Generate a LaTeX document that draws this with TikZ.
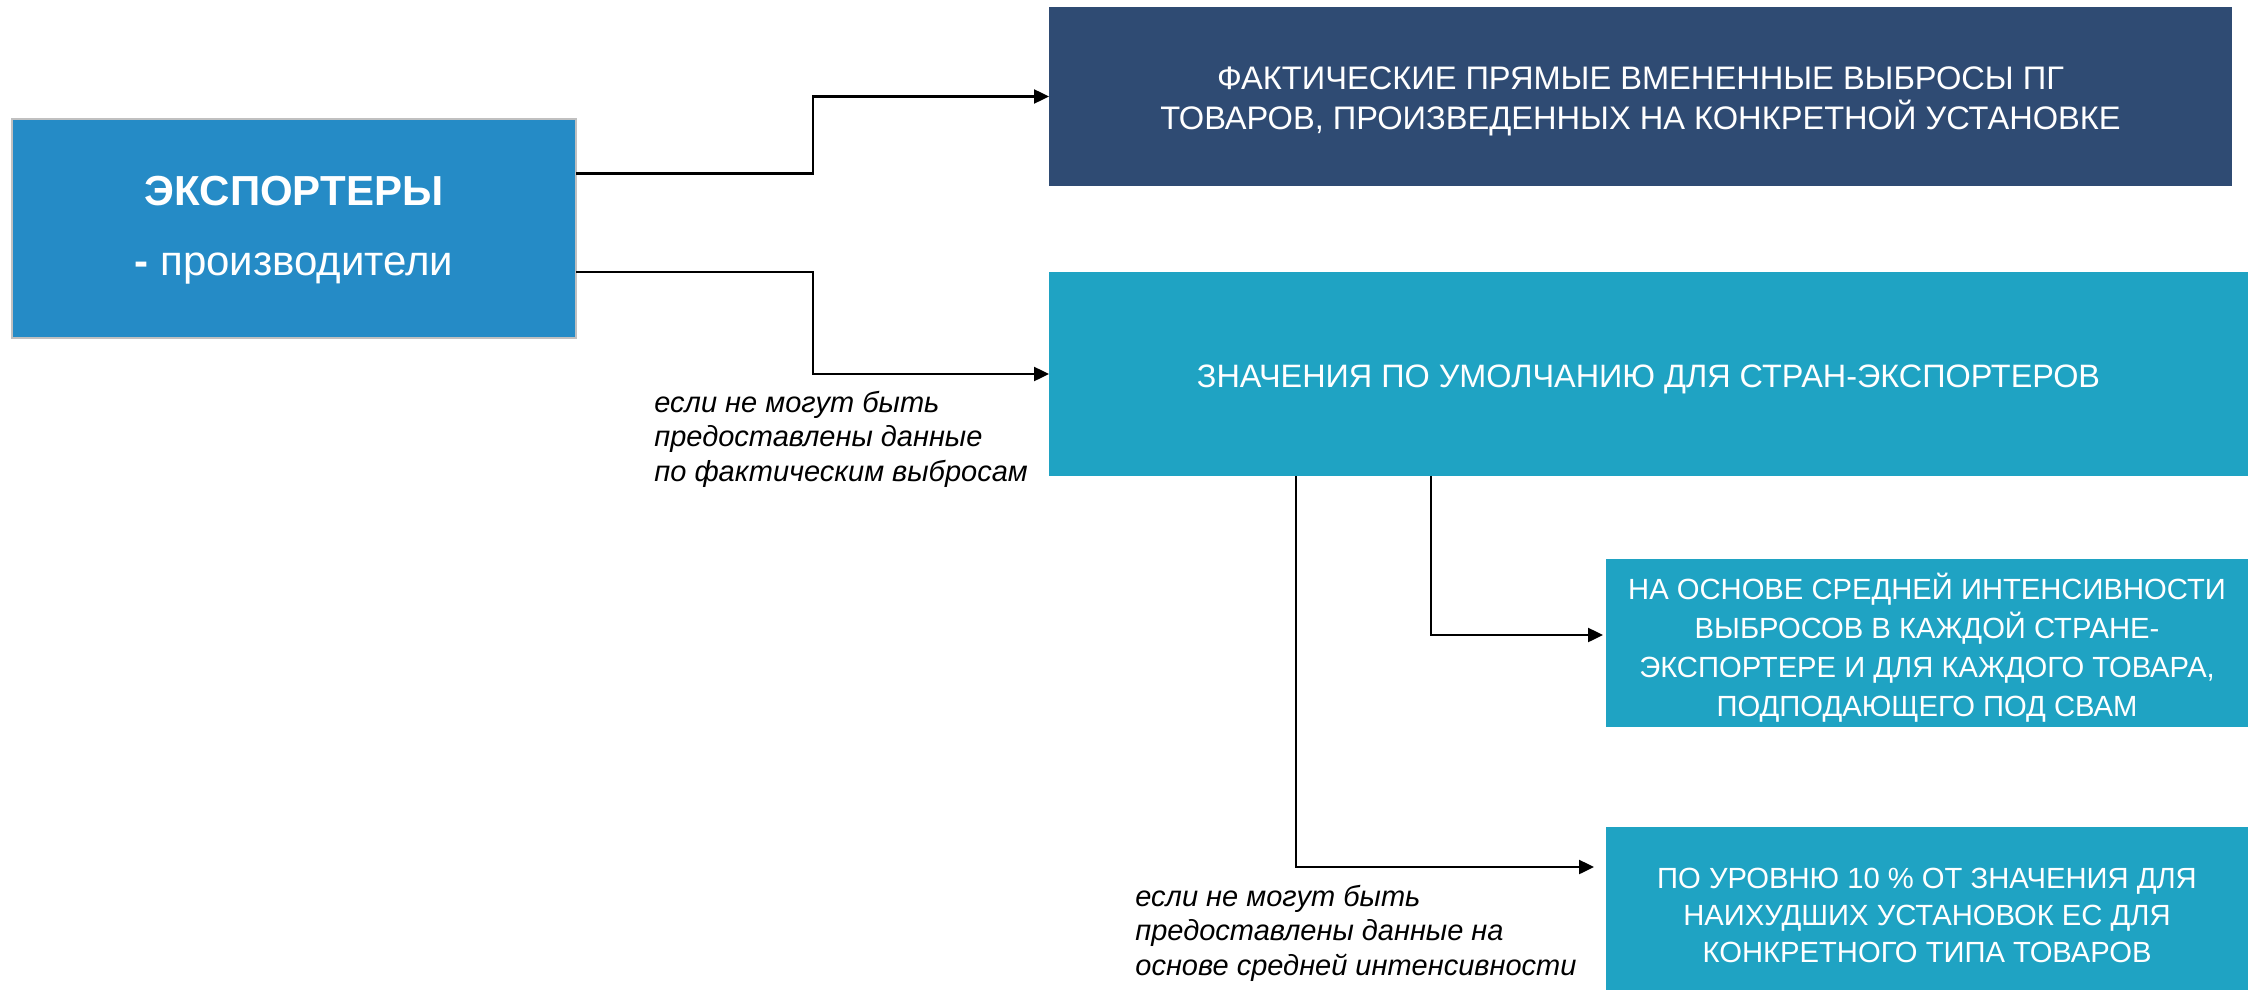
\documentclass[tikz,border=0pt]{standalone}
\usepackage{fontspec}
\setmainfont{Liberation Sans}
\usetikzlibrary{arrows.meta}
\definecolor{lblue}{HTML}{258BC6}
\definecolor{dblue}{HTML}{2F4B73}
\definecolor{tblue}{HTML}{1FA3C3}
\definecolor{bgray}{HTML}{C0C0C0}
\begin{document}
\begin{tikzpicture}[x=0.5pt,y=-0.5pt,
  boxbase/.style={inner sep=0pt, outer sep=0pt},
  boxtext/.style={inner sep=0pt, text=white, align=center, yshift=-2.6pt},
  leftbox/.style={boxbase, fill=lblue, draw=bgray, line width=1.2pt},
  darkbox/.style={boxbase, fill=dblue},
  tealbox/.style={boxbase, fill=tblue},
  arr/.style={draw=black, line width=1.2pt, -{Triangle[length=7.5pt,width=7pt]}},
  note/.style={inner sep=0pt, align=left, font=\fontsize{14.5}{17.2}\selectfont\itshape}
]
\useasboundingbox (0,0) rectangle (2248,990);
\node[leftbox, minimum width=282pt, minimum height=109.5pt,
  label={[boxtext, yshift=2pt, font=\fontsize{21}{25}\selectfont]center:{{\bfseries ЭКСПОРТЕРЫ}\\[10pt]{\bfseries -} производители}}] (L) at (294,228.5) {};
\node[darkbox, minimum width=591.5pt, minimum height=89.5pt,
  label={[boxtext, font=\fontsize{16.3}{20}\selectfont]center:{ФАКТИЧЕСКИЕ ПРЯМЫЕ ВМЕНЕННЫЕ ВЫБРОСЫ ПГ\\ТОВАРОВ, ПРОИЗВЕДЕННЫХ НА КОНКРЕТНОЙ УСТАНОВКЕ}}] (T) at (1640.5,96.5) {};
\node[tealbox, minimum width=599.5pt, minimum height=102pt,
  label={[boxtext, font=\fontsize{16.2}{20}\selectfont]center:{ЗНАЧЕНИЯ ПО УМОЛЧАНИЮ ДЛЯ СТРАН-ЭКСПОРТЕРОВ}}] (M) at (1648.5,374) {};
\node[tealbox, minimum width=321pt, minimum height=84pt,
  label={[boxtext, font=\fontsize{14.6}{19.5}\selectfont]center:{НА ОСНОВЕ СРЕДНЕЙ ИНТЕНСИВНОСТИ\\ВЫБРОСОВ В КАЖДОЙ СТРАНЕ-\\ЭКСПОРТЕРЕ И ДЛЯ КАЖДОГО ТОВАРА,\\ПОДПОДАЮЩЕГО ПОД СВАМ}}] (B3) at (1927,643) {};
\node[tealbox, minimum width=321pt, minimum height=81.5pt,
  label={[boxtext, yshift=-1pt, font=\fontsize{14.6}{18.6}\selectfont]center:{ПО УРОВНЮ 10 \% ОТ ЗНАЧЕНИЯ ДЛЯ\\НАИХУДШИХ УСТАНОВОК ЕС ДЛЯ\\КОНКРЕТНОГО ТИПА ТОВАРОВ}}] (B4) at (1927,908.5) {};
\node[note, anchor=west] (N1) at (654,439)
  {если не могут быть\\предоставлены данные\\по фактическим выбросам};
\node[note, anchor=west] (N2) at (1135,933)
  {если не могут быть\\предоставлены данные на\\основе средней интенсивности};
\coordinate (A4end) at (1594,867);
\draw[arr] (L.east |- 0,173.5) -- (813,173.5) |- (T.west);
\draw[arr] (L.east |- 0,272) -- (813,272) |- (M.west);
\draw[arr] (M.south -| 1431,0) |- ([xshift=-1.5pt]B3.west |- 0,635);
\draw[arr] (M.south -| 1296,0) |- (A4end);
\end{tikzpicture}
\end{document}
